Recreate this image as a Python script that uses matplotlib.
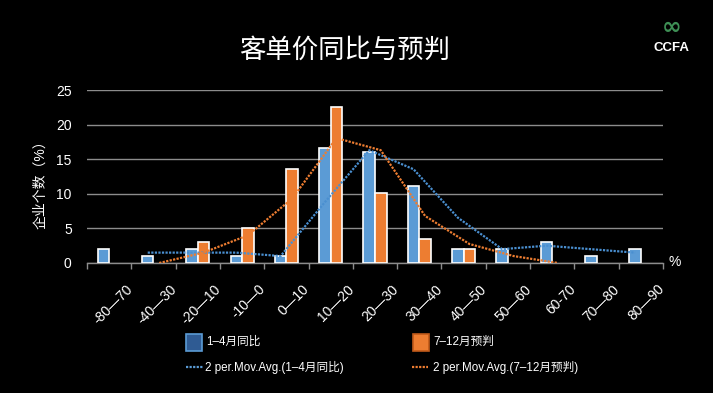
import numpy as np
import pandas as pd
import matplotlib
matplotlib.use("Agg")
import matplotlib.pyplot as plt
import matplotlib.transforms as mtransforms
from matplotlib.patches import Rectangle
from matplotlib.lines import Line2D

FAM = ['Liberation Sans', 'Noto Sans CJK SC', 'DejaVu Sans']
plt.rcParams['font.family'] = FAM

categories = ["-80—70", "-40—30", "-20—10", "-10—0", "0—10", "10—20", "20—30",
              "30—40", "40—50", "50—60", "60-70", "70—80", "80—90"]
jan_apr = [2, 1, 2, 1, 1, 16.6, 16.0, 11.1, 2, 2, 3, 1, 2]
jul_dec = [0, 0, 3, 5, 13.6, 22.5, 10.1, 3.5, 2, 0, 0, np.nan, np.nan]
yticks = [0, 5, 10, 15, 20, 25]

BLUE = "#5B9BD5"
ORANGE = "#ED7D31"
W, H = 713, 393

fig = plt.figure(figsize=(7.13, 3.93), dpi=100, facecolor="black")
ax = fig.add_axes([87/W, 1-263/H, 576/W, 173/H], facecolor="black")

x = np.arange(len(categories))
w = 0.26
blue_vals = np.array(jan_apr, dtype=float)
orange_vals = np.array(jul_dec, dtype=float)
ax.bar(x - w/2, np.where(blue_vals > 0, blue_vals, np.nan), width=w, color=BLUE,
       edgecolor="white", linewidth=1.2, zorder=3)
ax.bar(x + w/2, np.where(orange_vals > 0, orange_vals, np.nan), width=w, color=ORANGE,
       edgecolor="white", linewidth=1.2, zorder=3)

ma_blue = pd.Series(jan_apr).rolling(2).mean()
ma_orange = pd.Series(jul_dec).rolling(2).mean()
DOT = (0, (1, 0.6))
ax.plot(x - w/2, ma_blue, color="#4A8FD0", linestyle=DOT, linewidth=1.6, zorder=4)
ax.plot(x + w/2, ma_orange, color=ORANGE, linestyle=DOT, linewidth=1.6, zorder=4)

ax.set_xlim(-0.5, len(categories) - 0.5)
ax.set_ylim(0, 25)
ax.set_yticks(yticks)
ax.set_yticklabels([str(v) for v in yticks], color="white", fontsize=10)
ax.yaxis.grid(True, color="#8c8c8c", linewidth=1.0, zorder=0)
ax.set_axisbelow(True)
for s in ["top", "right", "left"]:
    ax.spines[s].set_visible(False)
ax.spines["bottom"].set_color("#8c8c8c")
ax.spines["bottom"].set_linewidth(1.0)
ax.tick_params(axis="y", length=0, pad=11)
ax.set_xticks(x)
ax.set_xticklabels(categories, rotation=45, ha="right", va="top", rotation_mode="anchor",
                   color="white", fontsize=10)
ax.tick_params(axis="x", which="major", length=0, pad=0)
offset = mtransforms.ScaledTranslation(16/100, -19/100, fig.dpi_scale_trans)
for lab in ax.get_xticklabels():
    lab.set_transform(lab.get_transform() + offset)
ax.set_xticks(np.arange(-0.5, len(categories), 1), minor=True)
ax.tick_params(axis="x", which="minor", length=4, color="#8c8c8c", width=1)

fig.text(40/W, 1-181/H, "企业个数（%）", rotation=90, color="white", fontsize=10,
         ha="center", va="center")
fig.text(675/W, 1-262/H, "%", color="white", fontsize=10, ha="center", va="center")
fig.text(345/W, 1-50/H, "客单价同比与预判", color="white", fontsize=19, ha="center", va="center")
fig.text(671/W, 1-48/H, "CCFA", color="white", fontsize=9.5, fontweight="bold",
         ha="center", va="center")
fig.text(672/W, 1-27/H, "∞", color="#3E8F55", fontsize=17, fontweight="bold",
         ha="center", va="center", family="DejaVu Sans")

# legend (drawn manually in figure pixels)
def fx(px):
    return px / W

def fy(py):
    return 1 - py / H

fig.patches.append(Rectangle((fx(186), fy(351)), 16/W, 17/H, transform=fig.transFigure,
                             facecolor="#2F5B93", edgecolor=BLUE, linewidth=1.2))
fig.patches.append(Rectangle((fx(413), fy(351)), 16/W, 17/H, transform=fig.transFigure,
                             facecolor=ORANGE, edgecolor="#C05A1A", linewidth=1.2))
fig.lines.append(Line2D([fx(186), fx(203)], [fy(367), fy(367)], transform=fig.transFigure,
                        color=BLUE, linestyle=DOT, linewidth=1.6))
fig.lines.append(Line2D([fx(412), fx(428)], [fy(367), fy(367)], transform=fig.transFigure,
                        color=ORANGE, linestyle=DOT, linewidth=1.6))
leg_fs = 8.4
fig.text(fx(206), fy(342), "1–4月同比", color="white", fontsize=leg_fs, ha="left", va="center")
fig.text(fx(433), fy(342), "7–12月预判", color="white", fontsize=leg_fs, ha="left", va="center")
fig.text(fx(205), fy(367), "2 per.Mov.Avg.(1–4月同比)", color="white", fontsize=leg_fs,
         ha="left", va="center")
fig.text(fx(433), fy(367), "2 per.Mov.Avg.(7–12月预判)", color="white", fontsize=leg_fs,
         ha="left", va="center")

fig.savefig("out.png", dpi=100, facecolor="black")
